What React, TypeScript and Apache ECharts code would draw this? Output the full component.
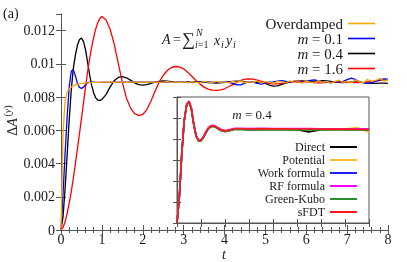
import React, { useEffect, useRef } from 'react';
import * as echarts from 'echarts';

const SERIF = '"Liberation Serif", "DejaVu Serif", serif';
const SCALE = 1e-4;

// time grid for main panel
const T = [
  0, 0.05, 0.1, 0.15, 0.2, 0.25, 0.3, 0.35, 0.4, 0.45, 0.5, 0.55, 0.6, 0.65, 0.7, 0.75, 0.8, 0.85, 0.9, 0.95, 1,
  1.1, 1.2, 1.3, 1.4, 1.5, 1.6, 1.7, 1.8, 1.9, 2,
  2.1, 2.2, 2.3, 2.4, 2.5, 2.6, 2.7, 2.8, 2.9, 3,
  3.1, 3.2, 3.3, 3.4, 3.5, 3.6, 3.7, 3.8, 3.9, 4,
  4.1, 4.2, 4.3, 4.4, 4.5, 4.6, 4.7, 4.8, 4.9, 5,
  5.1, 5.2, 5.3, 5.4, 5.5, 5.6, 5.7, 5.8, 5.9, 6,
  6.1, 6.2, 6.3, 6.4, 6.5, 6.6, 6.7, 6.8, 6.9, 7,
  7.1, 7.2, 7.3, 7.4, 7.5, 7.6, 7.7, 7.8, 7.9, 8,
];

// values in units of 1e-4
const overdamped = [
  0, 58, 78, 83, 85, 86, 86.8, 87.3, 87.7, 88, 88.2, 88.4, 88.5, 88.6, 88.7, 88.8, 88.8, 88.9, 88.9, 88.9, 89,
  89, 89.1, 88.9, 89, 89.1, 88.9, 89, 89.2, 88.9, 89,
  89.1, 88.8, 89.2, 88.9, 89, 89.3, 88.8, 89.1, 88.7, 89.2,
  88.6, 89.3, 88.9, 88.5, 89.4, 89, 88.7, 89.5, 88.8, 89.1,
  88.6, 89.4, 88.9, 89.6, 88.5, 89.2, 88.8, 89.7, 88.4, 89.3,
  88.9, 88.3, 89.5, 89.1, 88.6, 89.8, 88.7, 89.2, 88.4, 89.6,
  89, 88.5, 89.9, 88.8, 89.3, 88.2, 89.4, 90.1, 88.9, 89.5,
  88.6, 90.3, 89.2, 88.7, 90.6, 89.4, 90, 91.2, 89.6, 90.4,
];
const m01 = [
  0, 22, 46, 68, 86, 95.5, 96.5, 93, 88.5, 85.8, 85.2, 86, 87.5, 88.6, 89, 89.1, 89, 88.9, 88.9, 88.9, 88.9,
  88.9, 88.9, 89, 89, 89, 89, 89, 89, 89, 89,
  89, 89, 89, 89, 89, 89, 89, 89, 89, 89,
  89, 89.1, 89, 88.9, 89, 89.1, 89, 88.9, 89, 89.1,
  88.9, 88.2, 87.3, 87.4, 88.4, 89.1, 89, 88.3, 87.8, 88.4,
  89, 89.2, 89.6, 89.9, 89.5, 89, 88.8, 88.9, 89.1, 89.4,
  90, 90.4, 89.8, 89.1, 88.8, 88.9, 89.2, 89.3, 89.5, 90.5,
  91.4, 90.6, 89.3, 88.6, 88.4, 88.7, 89.4, 90.3, 91, 90.8,
];
const m04 = [
  0, 8, 25, 45, 66, 84, 97, 105, 111, 114.5, 115.5, 113.5, 108.5, 101, 93.5, 87, 82.5, 79.5, 78.2, 78, 78.5,
  81.5, 86, 89.8, 91.8, 92.3, 91.6, 90.2, 88.6, 87.5, 87.2,
  87.5, 88.2, 89, 89.5, 89.7, 89.6, 89.3, 89, 88.8, 88.8,
  89, 89.2, 89.3, 89.2, 89, 88.7, 88.5, 88.4, 88.6, 88.9,
  89.2, 89.5, 89.6, 89.4, 89.1, 88.9, 88.8, 88.8, 88.6, 88.2,
  87.2, 86.6, 86.8, 87.6, 88.4, 89, 89.4, 89.6, 89.7, 89.6,
  89.5, 89.6, 89.8, 89.9, 89.7, 89.4, 89.1, 88.8, 88.7, 88.8,
  89, 89.1, 89, 88.7, 88.4, 88.3, 88.3, 88.4, 88.4, 88.3,
];
const m16 = [
  0, 1.5, 5, 10, 16, 23, 31, 39.5, 48.5, 57.5, 67, 76.5, 86, 95, 103, 110, 116, 121, 124.8, 127.3, 128.5,
  126.5, 121, 112, 100.5, 89, 79.5, 73.5, 70, 69, 69.5,
  72.5, 77.5, 83.5, 89, 93, 96, 97.8, 98.4, 98.2, 97,
  95, 92.5, 90, 87.8, 86, 84.8, 84.2, 84, 84.3, 85,
  86.2, 87.5, 88.8, 90, 90.8, 91, 90.8, 90.2, 89.5, 88.8,
  88.3, 88, 88, 88.3, 88.7, 89.1, 89.4, 89.5, 89.4, 89.2,
  88.9, 88.7, 88.6, 88.6, 88.8, 89, 89.2, 89.3, 89.2, 89,
  88.8, 88.7, 88.7, 88.9, 89.2, 89.5, 89.8, 90, 90.1, 90.2,
];

// inset (m = 0.4), values in units of 1e-4
const INSET_T = [0, 0.1, 0.2, 0.3, 0.4, 0.5, 0.6, 0.7, 0.8, 0.9, 1, 1.1, 1.2, 1.3, 1.4, 1.5, 1.6, 1.8, 2, 2.2, 2.4, 2.7, 3, 3.5, 4, 4.5, 5, 5.5, 6, 6.5, 7, 7.5, 8];
const direct = [0, 25, 66, 97, 112, 115.5, 108.5, 93.5, 82.5, 78.2, 78.5, 81.5, 86, 89.8, 91.8, 92.3, 91.6, 88.6, 87.2, 88.2, 89.5, 89.3, 88.9, 89.1, 89, 89.1, 88.9, 86.8, 88.9, 89.1, 89, 88.9, 89];
const potential = [0, 26, 67, 97.5, 112.5, 115.8, 108.8, 93.8, 82.8, 78.5, 78.7, 81.6, 86.2, 89.9, 91.9, 92.4, 91.7, 88.8, 87.4, 88.4, 89.6, 89.4, 89.1, 89.3, 89.2, 89.4, 89.3, 89.2, 89.5, 89.2, 89.4, 91, 86.5];
const workFormula = [0, 25.5, 66.5, 97.2, 112.3, 115.6, 108.7, 93.6, 82.6, 78.4, 78.6, 81.6, 86.1, 89.9, 91.9, 92.4, 91.7, 88.8, 87.4, 88.4, 89.6, 89.5, 89.2, 89.4, 89.3, 89.3, 89.4, 89.3, 89.4, 89.3, 89.4, 89.3, 89.2];
const rfFormula = [0, 26, 67, 98, 113, 116.3, 109.5, 94.5, 83.3, 79, 79.2, 82.3, 86.8, 90.5, 92.5, 93, 92.3, 89.5, 88, 89, 90.2, 90.1, 89.9, 90.1, 90, 90, 89.9, 89.9, 89.8, 89.8, 89.7, 89.6, 89.5];
const greenKubo = [0, 25, 66, 97, 112, 115, 108, 93, 82, 77.8, 78, 81, 85.5, 89.3, 91.3, 91.8, 91.1, 88.2, 86.9, 87.9, 89.1, 88.9, 88.6, 88.8, 88.7, 88.8, 88.7, 88.7, 88.8, 88.7, 88.8, 88.6, 88.5];
const sFDT = [0, 25.5, 66.5, 97.5, 112.6, 115.8, 108.9, 93.9, 82.9, 78.5, 78.8, 81.8, 86.3, 90.1, 92.1, 92.6, 91.9, 89, 87.6, 88.6, 89.8, 89.7, 89.5, 89.7, 89.6, 89.6, 89.5, 89.5, 89.5, 89.4, 89.4, 89.3, 89.1];

const MAIN_NAMES = ['Overdamped', 'm = 0.1', 'm = 0.4', 'm = 1.6'];
const INSET_NAMES = ['Direct', 'Potential', 'Work formula', 'RF formula', 'Green-Kubo', 'sFDT'];

const pairs = (ts: number[], vs: number[]) => ts.map((t, i) => [t, vs[i] * SCALE]);

const AX = '#555';
const TXT = '#1a1a1a';

function xAx(grid: number, pos: 'bottom' | 'top', labels: boolean, tickLen: number, minor: boolean) {
  return {
    type: 'value', gridIndex: grid, position: pos, min: 0, max: 8, interval: 1,
    axisLine: { show: true, lineStyle: { color: AX, width: 1 } },
    axisTick: { show: true, inside: true, length: tickLen, lineStyle: { color: AX } },
    minorTick: { show: minor, splitNumber: 5, length: 3, lineStyle: { color: AX } },
    splitLine: { show: false },
    axisLabel: { show: labels, margin: 2, fontFamily: SERIF, fontSize: 14, color: TXT },
  };
}
function yAx(grid: number, pos: 'left' | 'right', labels: boolean, max: number, tickLen: number) {
  return {
    type: 'value', gridIndex: grid, position: pos, min: 0, max, interval: 0.002,
    axisLine: { show: true, lineStyle: { color: AX, width: 1 } },
    axisTick: { show: true, inside: true, length: tickLen, lineStyle: { color: AX } },
    splitLine: { show: false },
    axisLabel: {
      show: labels, margin: 6, fontFamily: SERIF, fontSize: 14, color: TXT, showMaxLabel: false,
      formatter: (v: number) => (v === 0 ? '0' : String(parseFloat(v.toFixed(4)))),
    },
  };
}

function line(name: string, data: number[][], color: string, width: number, xi: number, yi: number, z: number) {
  return {
    type: 'line', name, data, xAxisIndex: xi, yAxisIndex: yi, showSymbol: false, symbol: 'none',
    lineStyle: { color, width }, itemStyle: { color }, z,
  };
}

const legendFmt = (name: string) => (name.startsWith('m ') ? '{it|m}' + name.slice(1) : name);

export default function App() {
  const ref = useRef<HTMLDivElement>(null);
  useEffect(() => {
    const chart = echarts.init(ref.current!, undefined, { renderer: 'svg' });
    const option = {
      animation: false,
      grid: [
        { left: 61, right: 19, top: 14, bottom: 32, show: false },
        { left: 177, right: 38, top: 97, bottom: 39, show: true, backgroundColor: '#fff', borderColor: AX, borderWidth: 1, z: 3 },
      ],
      xAxis: [
        xAx(0, 'bottom', true, 5, true),
        xAx(0, 'top', false, 5, true),
        { ...xAx(1, 'bottom', false, 4, false), z: 4 },
        { ...xAx(1, 'top', false, 4, false), z: 4 },
      ],
      yAxis: [
        yAx(0, 'left', true, 0.013, 5),
        yAx(0, 'right', false, 0.013, 5),
        { ...yAx(1, 'left', false, 0.012, 4), z: 4 },
        { ...yAx(1, 'right', false, 0.012, 4), z: 4 },
      ],
      legend: [
        {
          data: MAIN_NAMES, orient: 'vertical', right: 32, top: 16, align: 'right', padding: 0,
          itemWidth: 27, itemHeight: 15, itemGap: 0, formatter: legendFmt,
          icon: 'path://M0,0H27V1.6H0Z',
          textStyle: { fontFamily: SERIF, fontSize: 15, lineHeight: 15, color: TXT, rich: { it: { fontFamily: SERIF, fontSize: 15, lineHeight: 15, fontStyle: 'italic', color: TXT } } },
        },
        {
          data: INSET_NAMES, orient: 'vertical', right: 50, top: 140.5, align: 'right', padding: 0,
          itemWidth: 27, itemHeight: 13, itemGap: 0, z: 10,
          icon: 'path://M0,0H27V2H0Z',
          textStyle: { fontFamily: SERIF, fontSize: 12, lineHeight: 13, color: TXT },
        },
      ],
      series: [
        line('m = 0.4', pairs(T, m04), '#000000', 1.3, 0, 0, 2),
        line('m = 1.6', pairs(T, m16), '#ff0000', 1.3, 0, 0, 2),
        line('m = 0.1', pairs(T, m01), '#0000ff', 1.3, 0, 0, 2),
        line('Overdamped', pairs(T, overdamped), '#ffa500', 1.3, 0, 0, 2),
        line('Direct', pairs(INSET_T, direct), '#000000', 1.6, 2, 2, 5),
        line('Potential', pairs(INSET_T, potential), '#ffb732', 1.6, 2, 2, 5),
        line('Work formula', pairs(INSET_T, workFormula), '#2020ff', 1.6, 2, 2, 5),
        line('RF formula', pairs(INSET_T, rfFormula), '#ff00ff', 1.6, 2, 2, 5),
        line('Green-Kubo', pairs(INSET_T, greenKubo), '#2e8b2e', 1.6, 2, 2, 5),
        line('sFDT', pairs(INSET_T, sFDT), '#ff1a1a', 1.6, 2, 2, 5),
      ],
      graphic: [
        { type: 'text', z: 100, x: 3, y: 13, style: { text: '(a)', font: `14px ${SERIF}`, fill: TXT, textVerticalAlign: 'middle' } },
        { type: 'text', z: 100, x: 12, y: 127, rotation: Math.PI / 2,
          style: { text: '{u|Δ}{i|A}', rich: { u: { font: `14px ${SERIF}`, fill: TXT }, i: { font: `italic 14px ${SERIF}`, fill: TXT } }, fill: TXT, textAlign: 'center', textVerticalAlign: 'middle' } },
        { type: 'text', z: 100, x: 7, y: 111, rotation: Math.PI / 2,
          style: { text: '{u|(}{i|y}{u|)}', rich: { u: { font: `10px ${SERIF}`, fill: TXT }, i: { font: `italic 10px ${SERIF}`, fill: TXT } }, fill: TXT, textAlign: 'center', textVerticalAlign: 'middle' } },
        { type: 'text', z: 100, x: 224, y: 254, style: { text: 't', font: `italic 14px ${SERIF}`, fill: TXT, textAlign: 'center', textVerticalAlign: 'middle' } },
        // equation A = sum_{i=1}^N x_i y_i
        { type: 'text', z: 100, x: 162, y: 39, style: { text: 'A', font: `italic 14px ${SERIF}`, fill: TXT, textVerticalAlign: 'middle' } },
        { type: 'text', z: 100, x: 173, y: 39, style: { text: '=', font: `14px ${SERIF}`, fill: TXT, textVerticalAlign: 'middle' } },
        { type: 'text', z: 100, x: 182, y: 39, style: { text: '∑', font: `18px ${SERIF}`, fill: TXT, textVerticalAlign: 'middle' } },
        { type: 'text', z: 100, x: 196, y: 32, style: { text: 'N', font: `italic 10px ${SERIF}`, fill: TXT, textVerticalAlign: 'middle' } },
        { type: 'text', z: 100, x: 195, y: 44, style: { text: '{i|i}{u|=1}', rich: { u: { font: `10px ${SERIF}`, fill: TXT }, i: { font: `italic 10px ${SERIF}`, fill: TXT } }, fill: TXT, textVerticalAlign: 'middle' } },
        { type: 'text', z: 100, x: 214, y: 40, style: { text: 'x', font: `italic 14px ${SERIF}`, fill: TXT, textVerticalAlign: 'middle' } },
        { type: 'text', z: 100, x: 221, y: 44, style: { text: 'i', font: `italic 10px ${SERIF}`, fill: TXT, textVerticalAlign: 'middle' } },
        { type: 'text', z: 100, x: 226, y: 40, style: { text: 'y', font: `italic 14px ${SERIF}`, fill: TXT, textVerticalAlign: 'middle' } },
        { type: 'text', z: 100, x: 233, y: 44, style: { text: 'i', font: `italic 10px ${SERIF}`, fill: TXT, textVerticalAlign: 'middle' } },
        // inset title
        { type: 'text', z: 100, x: 252, y: 114,
          style: { text: '{i|m} = 0.4', rich: { i: { font: `italic 13px ${SERIF}`, fill: TXT } }, font: `13px ${SERIF}`, fill: TXT, textAlign: 'center', textVerticalAlign: 'middle' } },
      ],
    };
    chart.setOption(option as any);
    return () => chart.dispose();
  }, []);
  return <div ref={ref} style={{ position: 'fixed', left: 0, top: 0, width: 407, height: 262 }} />;
}
